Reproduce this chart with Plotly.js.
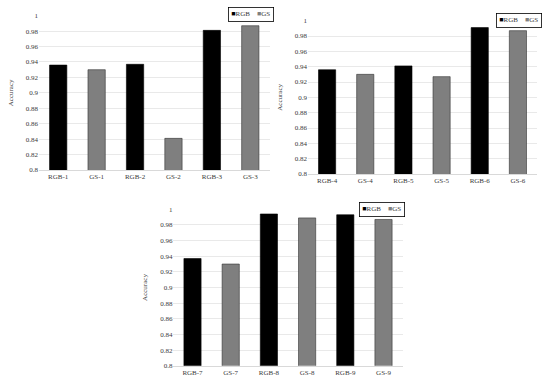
<!DOCTYPE html>
<html>
<head>
<meta charset="utf-8">
<script src="https://cdn.plot.ly/plotly-3.0.1.min.js"></script>
<style>html,body{margin:0;padding:0;background:#fff;}#chart{width:550px;height:384px;}</style>
</head>
<body>
<div id="chart"></div>
<script>
// Series names
const seriesNames = ["RGB", "GS"];

// Panel 1
const rgbCats1 = ["RGB-1", "RGB-2", "RGB-3"];
const gsCats1 = ["GS-1", "GS-2", "GS-3"];
const rgbVals1 = [0.936, 0.937, 0.981];
const gsVals1 = [0.930, 0.841, 0.987];

// Panel 2
const rgbCats2 = ["RGB-4", "RGB-5", "RGB-6"];
const gsCats2 = ["GS-4", "GS-5", "GS-6"];
const rgbVals2 = [0.936, 0.941, 0.991];
const gsVals2 = [0.930, 0.927, 0.987];

// Panel 3
const rgbCats3 = ["RGB-7", "RGB-8", "RGB-9"];
const gsCats3 = ["GS-7", "GS-8", "GS-9"];
const rgbVals3 = [0.937, 0.994, 0.993];
const gsVals3 = [0.930, 0.989, 0.987];

// Y ticks
const yTickVals = [0.8, 0.82, 0.84, 0.86, 0.88, 0.9, 0.92, 0.94, 0.96, 0.98, 1];
const yTickText = ["0.8", "0.82", "0.84", "0.86", "0.88", "0.9", "0.92", "0.94", "0.96", "0.98", "1"];
const yTitle = "Accuracy";

const FONT = "Liberation Serif, Times New Roman, serif";
const RGB_COLOR = "#000000";
const GS_COLOR = "#7f7f7f";
const TXT = "#3a3a3a";

function interleave(a, b) {
  const out = [];
  for (let i = 0; i < a.length; i++) { out.push(a[i]); out.push(b[i]); }
  return out;
}

const panels = [
  {rc: rgbCats1, gc: gsCats1, rv: rgbVals1, gv: gsVals1},
  {rc: rgbCats2, gc: gsCats2, rv: rgbVals2, gv: gsVals2},
  {rc: rgbCats3, gc: gsCats3, rv: rgbVals3, gv: gsVals3}
];

const traces = [];
panels.forEach((p, i) => {
  const xa = i === 0 ? "x" : "x" + (i + 1);
  const ya = i === 0 ? "y" : "y" + (i + 1);
  traces.push({
    type: "bar", name: seriesNames[0], x: p.rc, y: p.rv, xaxis: xa, yaxis: ya,
    marker: {color: RGB_COLOR, line: {color: "#000", width: 0.6}}, showlegend: false
  });
  traces.push({
    type: "bar", name: seriesNames[1], x: p.gc, y: p.gv, xaxis: xa, yaxis: ya,
    marker: {color: GS_COLOR, line: {color: "#333", width: 0.6}}, showlegend: false
  });
});

const W = 550, H = 384;
const domains = [
  {x: [39 / W, 269.5 / W], y: [1 - 170 / H, 1 - 15.7 / H]},
  {x: [308 / W, 537 / W], y: [1 - 174 / H, 1 - 20.7 / H]},
  {x: [173.4 / W, 402.6 / W], y: [1 - 365.7 / H, 1 - 209.3 / H]}
];

const layout = {
  width: W, height: H,
  margin: {l: 0, r: 0, t: 0, b: 0},
  paper_bgcolor: "#fff", plot_bgcolor: "#fff",
  barmode: "overlay", bargap: 0.55,
  font: {family: FONT, size: 7, color: TXT},
  showlegend: false,
  annotations: []
};

const legendBoxes = [
  {xr: 274, yt: 7.3},
  {xr: 541.5, yt: 12.7},
  {xr: 405, yt: 201.7}
];

panels.forEach((p, i) => {
  const suffix = i === 0 ? "" : String(i + 1);
  const xa = "xaxis" + suffix, ya = "yaxis" + suffix;
  layout[xa] = {
    domain: domains[i].x, anchor: "y" + suffix,
    type: "category", categoryorder: "array", categoryarray: interleave(p.rc, p.gc),
    showgrid: false, zeroline: false, showline: true, linecolor: "#d9d9d9", linewidth: 1,
    ticks: "", tickfont: {family: FONT, size: 7, color: TXT}, fixedrange: true
  };
  layout[ya] = {
    domain: domains[i].y, anchor: "x" + suffix,
    range: [0.8, 1.0], tickvals: yTickVals, ticktext: yTickText,
    showgrid: true, gridcolor: "#e0e0e0", gridwidth: 0.7, zeroline: false, showline: false,
    ticks: "", tickfont: {family: FONT, size: 7, color: TXT},
    title: {text: yTitle, font: {family: FONT, size: 7, color: TXT}, standoff: 11},
    fixedrange: true
  };
  const lb = legendBoxes[i];
  layout.annotations.push({
    xref: "paper", yref: "paper",
    x: lb.xr / W, y: 1 - lb.yt / H, xanchor: "right", yanchor: "top",
    text: '<span style="color:' + RGB_COLOR + '">■</span>' + seriesNames[0] +
          '\u2003<span style="color:' + GS_COLOR + '">■</span>' + seriesNames[1],
    showarrow: false, font: {family: FONT, size: 7, color: TXT},
    bordercolor: "#000", borderwidth: 0.8, borderpad: 2.5, bgcolor: "#fff", align: "center"
  });
});

Plotly.newPlot("chart", traces, layout, {displayModeBar: false, staticPlot: true});
</script>
</body>
</html>
